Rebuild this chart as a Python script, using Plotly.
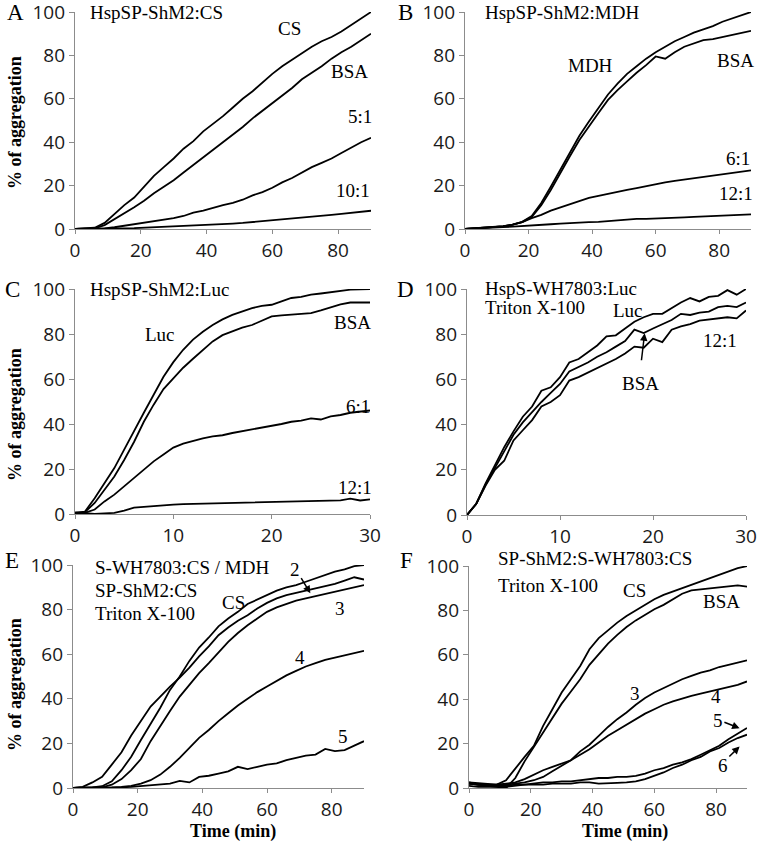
import plotly.graph_objects as go

# time grids (min)
T90 = [0, 3, 6, 9, 12, 15, 18, 21, 24, 27, 30, 33, 36, 39, 42, 45, 48, 51, 54, 57,
       60, 63, 66, 69, 72, 75, 78, 81, 84, 87, 90]
T30 = [0, 1, 2, 3, 4, 5, 6, 7, 8, 9, 10, 11, 12, 13, 14, 15, 16, 17, 18, 19, 20,
       21, 22, 23, 24, 25, 26, 27, 28, 29, 30]

# A  HspSP-ShM2:CS
A_CS = [0, 0.2, 0.6, 2.8, 7, 11, 14.5, 19.5, 24.5, 28.5, 32.5, 37, 40.5, 45, 48.5, 52,
        56, 60, 63.5, 67.5, 71.5, 75, 78, 81, 84, 86.5, 88.5, 91, 94, 97, 100]
A_BSA = [0, 0, 0.3, 1.8, 4.5, 7, 10, 13, 16.5, 19.5, 22.5, 26, 29.5, 33, 36.5, 40,
         43.5, 47, 51, 54.5, 58, 61.5, 65, 69, 72, 75, 78.5, 81.5, 84, 87, 90]
A_51 = [0, 0, 0, 0.3, 0.8, 1.5, 2, 2.8, 3.3, 4, 5, 6, 7.5, 8.5, 9.8, 11, 12, 13.5,
        15.5, 17, 19, 21.5, 23.5, 26, 28.5, 30.5, 32.5, 35, 37.5, 40, 42]
A_101 = [0, 0, 0, 0, 0.2, 0.3, 0.4, 0.6, 0.8, 0.9, 1, 1.3, 1.5, 1.7, 2, 2.3, 2.5, 2.8,
         3.2, 3.5, 3.8, 4.3, 4.8, 5.3, 5.7, 6, 6.5, 7, 7.5, 8, 8.4]

# B  HspSP-ShM2:MDH
B_MDH = [0, 0.3, 0.4, 0.7, 1.2, 2, 3.3, 6, 12, 19.5, 27.5, 35, 43, 49.5, 55.5, 62, 67,
         71.5, 75, 78.5, 81.5, 84, 86.5, 88.5, 90.5, 92, 93.5, 95.5, 97, 98.5, 100]
B_BSA = [0, 0.3, 0.4, 0.7, 1.2, 2, 3.2, 5.5, 11, 18, 26, 33.5, 41, 47.5, 53.5, 59.5, 64,
         68, 72, 75.5, 79.5, 78.5, 81.5, 84, 85.5, 87, 87.5, 88.5, 89.5, 90.5, 91.3]
B_61 = [0, 0.3, 0.5, 0.8, 1.3, 2, 3.2, 5, 6.5, 8.5, 10, 11.5, 13, 14.3, 15.3, 16.3, 17.2,
        18, 18.8, 19.8, 20.7, 21.5, 22.2, 22.8, 23.5, 24, 24.5, 25.2, 25.7, 26.3, 27]
B_121 = [0, 0.3, 0.4, 0.6, 0.9, 1.1, 1.3, 1.5, 1.8, 2.2, 2.5, 2.8, 3, 3.2, 3.3, 3.6, 4,
         4.5, 4.7, 4.7, 4.8, 5, 5.2, 5.4, 5.6, 5.8, 6, 6, 6.1, 6.3, 6.7]

# C  HspSP-ShM2:Luc
C_LUC = [0.5, 1, 7, 13.8, 20.4, 28.6, 37, 45, 53, 61, 67.5, 73, 77.5, 81, 84, 86.5,
         88.5, 90, 91.5, 92.5, 93, 94.5, 96, 96.5, 97.5, 98, 98.5, 99, 99.7, 99.8, 100]
C_BSA = [0.5, 0.8, 4.9, 10.8, 16.7, 24, 32, 41, 48.6, 55.5, 60.4, 65, 69, 73, 76.7,
         79.5, 81.2, 82.8, 84, 86, 87.8, 88.3, 88.6, 89, 89.3, 90.5, 92, 93.2, 94, 94, 94]
C_61 = [0.3, 0.5, 2, 5.6, 8.6, 12.3, 16, 19.7, 23.4, 26.4, 29.5, 31.3, 32.6, 33.6, 34.5,
        35, 36, 36.8, 37.5, 38.3, 39, 40, 41, 41.5, 42.5, 42, 43.4, 44, 45, 45.5, 46]
C_121 = [0.7, 0.2, 0, 0.3, 0.5, 1.5, 2.8, 3.2, 3.6, 3.9, 4.2, 4.4, 4.5, 4.7, 4.8, 5, 5,
         5.1, 5.3, 5.2, 5.4, 5.5, 5.6, 5.8, 5.7, 6, 6, 6.1, 6.8, 6, 6.5]

# D  HspS-WH7803:Luc, Triton X-100
D_LUC = [0, 5, 14, 22, 30, 37, 43.5, 48, 55, 56.5, 61, 67.5, 69, 72, 75, 79, 79.5,
         82.5, 85.5, 87.5, 89, 89, 91.5, 94, 96, 94.5, 96.5, 97, 99.5, 97.5, 100]
D_BSA = [0, 5, 13.5, 21, 28.5, 35.5, 41, 45.5, 50, 54, 58, 63.5, 65.5, 67.5, 70, 72,
         74.5, 77, 82, 80.5, 82.5, 84.5, 86.3, 89, 88.5, 89.5, 90, 92, 92.5, 92, 94]
D_121 = [0, 5, 13, 20, 24, 33, 37.5, 42, 48, 50, 53, 59.5, 61, 63, 65, 67, 69, 71.5,
         74.5, 74, 78, 76.5, 82, 83.5, 84.5, 86, 86.5, 87, 87.5, 87, 90.5]

# E  S-WH7803:CS / MDH, SP-ShM2:CS, Triton X-100
E_CS = [0, 0, 0.3, 0.8, 3, 8, 14, 21.5, 28.5, 36, 44, 50, 57, 63, 67.5, 72.5, 76, 79,
        82.5, 84.5, 86.5, 88.5, 90, 91, 92.5, 94, 95.5, 97, 98, 99.5, 100]
E_2 = [0, 0.5, 2.5, 5, 10.5, 16, 23.5, 30, 36.5, 41, 45.5, 49.5, 54, 59, 63.5, 68.5,
       72, 75, 77.5, 80.5, 83, 85, 86.5, 87.5, 88.5, 89.5, 90.5, 91.5, 93, 94.5, 93.5]
E_3 = [0, 0, 0, 0.3, 1.5, 4, 8, 13, 21, 28, 34.5, 41, 46.5, 51.5, 56, 61, 65.5, 69.5,
       73, 76, 79, 81, 82.5, 84, 85, 86, 87, 88, 89, 90, 91]
E_4 = [0, 0, 0, 0, 0.3, 0.5, 1, 2, 3.5, 6, 9.5, 13.5, 18, 22.5, 26, 30, 33.5, 37, 40,
       43, 45.5, 48, 50.5, 52.5, 54.5, 56, 57.5, 58.5, 59.5, 60.5, 61.5]
E_5 = [0, 0, 0, 0, 0, 0.3, 0.5, 0.8, 1.2, 1.5, 2, 3.2, 2.5, 5, 5.5, 6.5, 7.5, 9.5, 8.5,
       9.5, 10.5, 11, 12.5, 13.5, 14.5, 15, 17.5, 16.5, 17, 19, 21]

# F  SP-ShM2:S-WH7803:CS, Triton X-100
F_CS = [2.5, 1.5, 1, 1.5, 3.5, 9, 14, 19, 28, 35.5, 43, 49, 55, 62.5, 67.5, 71, 74.5,
        77.5, 80, 82.5, 85, 87, 88.5, 90, 91.5, 93, 94.5, 96, 97.5, 99, 100]
F_BSA = [1, 0.5, 0.5, 0.5, 0, 4.5, 12, 18.5, 25, 31, 38, 43.5, 49, 55.5, 60.5, 65, 69,
         72.5, 75.5, 78, 80.5, 82.5, 85, 87.5, 89, 89.5, 90, 90.5, 91, 91.3, 90.7]
F_3 = [2.5, 2, 1.8, 1.5, 1.5, 2, 2.5, 3.5, 5, 7.5, 10, 12.5, 16.5, 19.5, 23.5, 27.5, 31,
       34, 37.5, 40.5, 43, 45, 47, 49, 50.5, 52, 53, 54.5, 55.5, 56.5, 57.5]
F_4 = [2, 1.5, 1.5, 1.5, 2, 2.5, 4, 6, 8, 9.5, 11, 12.5, 15, 17.5, 20.5, 23.5, 26, 28.5,
       31, 33.5, 35.5, 37.5, 39, 40.3, 41.5, 42.5, 43.5, 44.5, 45.5, 46.5, 48]
F_5 = [2, 1.5, 1.5, 1, 1, 1.5, 1.5, 2, 2.5, 2.5, 3, 3, 3.5, 4, 4.5, 4.5, 5, 5, 5.5, 6.5,
       8, 9, 10.5, 11.5, 13, 15, 17, 19, 22, 24.5, 27]
F_6 = [2, 1.5, 1, 0.5, 0.5, 1, 1.5, 1.5, 1.5, 2, 2, 2, 2.5, 2.5, 2, 2, 2.3, 2.5, 3, 4,
       5.5, 7, 9, 10.5, 12.5, 14, 16.5, 18, 20.5, 22.5, 24]

Y_TICKS = [0, 20, 40, 60, 80, 100]
X90_TICKS = [0, 20, 40, 60, 80]
X30_TICKS = [0, 10, 20, 30]

W, H = 758, 844
SERIF = "Liberation Serif, Times New Roman, serif"
SANS = "Open Sans, Arial, sans-serif"
AXIS_GREY = "#8c8c8c"

# panel boxes in pixels: (left, right, top, bottom)
panels = [
    ("A", (75, 371, 12, 229), T90, [A_CS, A_BSA, A_51, A_101], 90, X90_TICKS),
    ("B", (465, 751, 12, 229), T90, [B_MDH, B_BSA, B_61, B_121], 90, X90_TICKS),
    ("C", (75, 370, 289, 514), T30, [C_LUC, C_BSA, C_61, C_121], 30, X30_TICKS),
    ("D", (467, 746, 289, 515), T30, [D_LUC, D_BSA, D_121], 30, X30_TICKS),
    ("E", (73, 364, 565, 788), T90, [E_CS, E_2, E_3, E_4, E_5], 90, X90_TICKS),
    ("F", (469, 747, 566, 788), T90, [F_CS, F_BSA, F_3, F_4, F_5, F_6], 90, X90_TICKS),
]

fig = go.Figure()
layout = {}
for i, (letter, (x0, x1, y0, y1), t, series, xmax, xticks) in enumerate(panels, start=1):
    sfx = "" if i == 1 else str(i)
    for ys in series:
        fig.add_trace(go.Scatter(
            x=t, y=ys, mode="lines", xaxis=f"x{sfx}", yaxis=f"y{sfx}",
            line=dict(color="black", width=1.8), showlegend=False,
        ))
    common = dict(
        showline=True, linecolor=AXIS_GREY, linewidth=1.2, showgrid=False,
        zeroline=False, ticks="outside", tickcolor=AXIS_GREY,
        automargin=False, ticklabeloverflow="allow",
        tickfont=dict(family=SANS, size=19, color="#1a1a1a"),
    )
    layout[f"xaxis{sfx}"] = dict(
        common, domain=[x0 / W, x1 / W], range=[0, xmax], tickvals=xticks,
        anchor=f"y{sfx}", ticklen=4,
    )
    layout[f"yaxis{sfx}"] = dict(
        common, domain=[1 - y1 / H, 1 - y0 / H], range=[0, 100], tickvals=Y_TICKS,
        anchor=f"x{sfx}", ticklen=5,
    )

fig.update_layout(
    width=W, height=H, margin=dict(l=0, r=0, t=0, b=0),
    paper_bgcolor="white", plot_bgcolor="white", **layout,
)

annotations = []


def txt(text, x, y, i, anchor="center", size=19):
    sfx = "" if i == 1 else str(i)
    annotations.append(dict(
        text=text, x=x, y=y, xref=f"x{sfx}", yref=f"y{sfx}", showarrow=False,
        xanchor=anchor, yanchor="middle", font=dict(family=SERIF, size=size, color="black"),
    ))


def arrow(x, y, ax, ay, i):
    sfx = "" if i == 1 else str(i)
    annotations.append(dict(
        text="", x=x, y=y, ax=ax, ay=ay, xref=f"x{sfx}", yref=f"y{sfx}",
        axref=f"x{sfx}", ayref=f"y{sfx}", showarrow=True, arrowhead=2,
        arrowsize=1, arrowwidth=1.5, arrowcolor="black",
    ))


def paper(text, px, py, size=19, bold=False, angle=0, anchor="center", vanchor="middle"):
    annotations.append(dict(
        text=f"<b>{text}</b>" if bold else text, x=px / W, y=1 - py / H,
        xref="paper", yref="paper", showarrow=False, textangle=angle,
        xanchor=anchor, yanchor=vanchor,
        font=dict(family=SERIF, size=size, color="black"),
    ))


# panel letters
for letter, px, py in [("A", 15, 13), ("B", 405, 13), ("C", 12, 289),
                       ("D", 405, 289), ("E", 12, 560), ("F", 406, 560)]:
    paper(letter, px, py, size=23)

# panel titles (pixel positions of their left edges)
paper("HspSP-ShM2:CS", 88, 13, anchor="left")
paper("HspSP-ShM2:MDH", 483, 13, anchor="left")
paper("HspSP-ShM2:Luc", 88, 289, anchor="left")
paper("HspS-WH7803:Luc", 483, 288, anchor="left")
paper("Triton X-100", 483, 307, anchor="left")
paper("S-WH7803:CS / MDH", 93, 567, anchor="left")
paper("SP-ShM2:CS", 93, 590, anchor="left")
paper("Triton X-100", 93, 613, anchor="left")
paper("SP-ShM2:S-WH7803:CS", 496, 558, anchor="left")
paper("Triton X-100", 496, 585, anchor="left")

# A
txt("CS", 65.3, 92.2, 1)
txt("BSA", 83.6, 72.6, 1)
txt("5:1", 86.6, 52, 1)
txt("10:1", 84.5, 17.8, 1)
# B
txt("MDH", 39.6, 75.5, 2)
txt("BSA", 85.2, 77.7, 2)
txt("6:1", 85.8, 32.7, 2)
txt("12:1", 85.2, 16.4, 2)
# C
txt("Luc", 8.6, 79.6, 3)
txt("BSA", 28.2, 84.9, 3)
txt("6:1", 28.8, 47.6, 3)
txt("12:1", 28.5, 12, 3)
# D
txt("Luc", 17.3, 90.7, 4)
txt("12:1", 27.2, 77.4, 4)
txt("BSA", 18.7, 58.4, 4)
arrow(19.1, 80.4, 18.74, 67.8, 4)
# E
txt("CS", 49.5, 83.4, 5)
txt("2", 68.7, 97.8, 5)
arrow(73.4, 87.3, 70.3, 94.8, 5)
txt("3", 82.7, 80.7, 5)
txt("4", 70.3, 58.7, 5)
txt("5", 83.6, 22.9, 5)
# F
txt("CS", 53.7, 88.8, 6)
txt("BSA", 81.6, 83.9, 6)
txt("3", 53.7, 42.6, 6)
txt("4", 79.9, 41.3, 6)
txt("5", 80.6, 30.5, 6)
arrow(87.6, 26.9, 82.2, 29.9, 6)
txt("6", 82.2, 10.3, 6)
arrow(87.6, 18.7, 83.8, 13.5, 6)

# axis titles
for py in (123, 415, 685):
    paper("% of aggregation", 15, py, size=18, bold=True, angle=-90)
paper("Time (min)", 233, 844, size=18, bold=True, vanchor="bottom")
paper("Time (min)", 625, 844, size=18, bold=True, vanchor="bottom")

fig.update_layout(annotations=annotations)
# drop the browser's default 8px body margin so the figure sits at the page corner
fig.write_html(
    "out.html",
    config={"displayModeBar": False},
    post_script="document.body.style.margin = '0';",
)
